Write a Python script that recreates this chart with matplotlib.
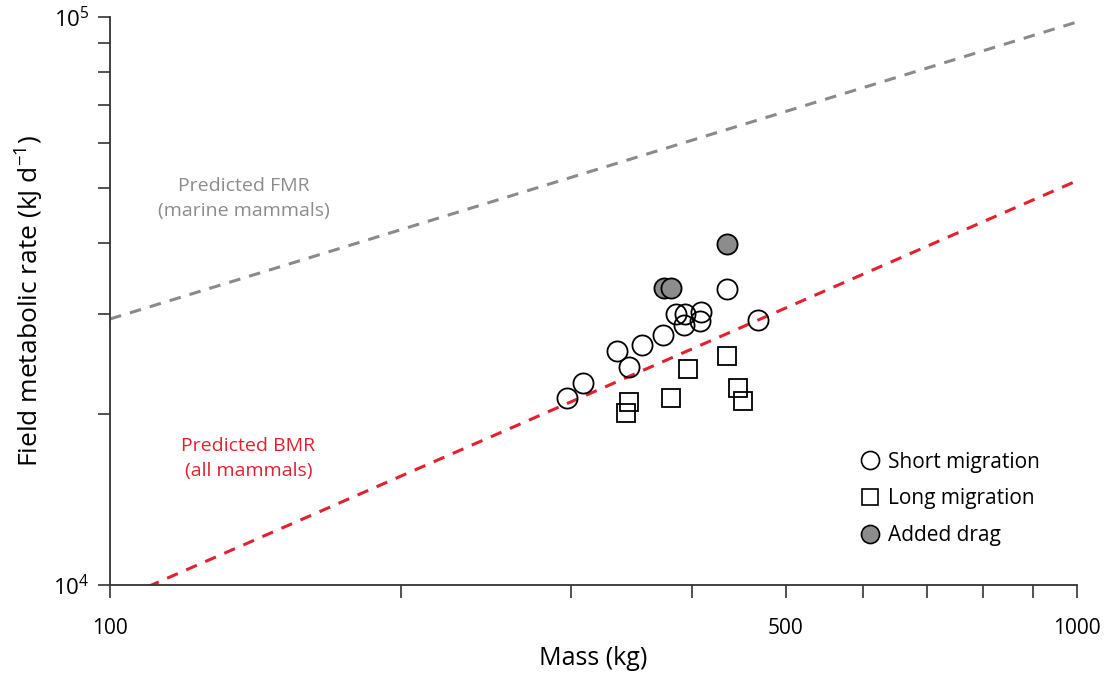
import matplotlib
matplotlib.use("Agg")
import matplotlib.pyplot as plt
from matplotlib.ticker import FixedLocator, NullFormatter, FixedFormatter
from matplotlib.lines import Line2D

plt.rcParams["font.family"] = ["Open Sans", "DejaVu Sans"]
plt.rcParams["mathtext.fontset"] = "custom"
plt.rcParams["mathtext.rm"] = "Open Sans"
plt.rcParams["mathtext.it"] = "Open Sans:italic"
plt.rcParams["mathtext.bf"] = "Open Sans:bold"

# data
short_mass = [297, 308, 334, 344, 355, 373, 385, 393, 392, 408, 407, 434, 468]
short_fmr = [21300, 22650, 25800, 24200, 26500, 27500, 30000, 29950, 28700,
             30300, 29150, 33200, 29300]
long_mass = [344, 342, 380, 396, 434, 446, 451]
long_fmr = [21000, 20050, 21300, 24050, 25300, 22200, 21100]
drag_mass = [374, 380, 434]
drag_fmr = [33300, 33300, 39800]

fmr_line_mass = [100, 1000]
fmr_line_rate = [29400, 98000]
bmr_line_mass = [100, 1000]
bmr_line_rate = [9290, 51500]

x_major = [100, 500, 1000]
x_major_labels = ["100", "500", "1000"]
x_minor = [200, 300, 400, 600, 700, 800, 900]
y_major = [1e4, 1e5]
y_major_labels = [r"$10^{4}$", r"$10^{5}$"]
y_minor = [2e4, 3e4, 4e4, 5e4, 6e4, 7e4, 8e4, 9e4]

axis_col = "#333333"
gray_line = "#8a8a8a"
red_line = "#e3202e"

fig = plt.figure(figsize=(11.07, 6.79), dpi=100)
ax = fig.add_axes([0.0994, 0.1384, 0.8736, 0.8366])

ax.set_xscale("log")
ax.set_yscale("log")
ax.set_xlim(100, 1000)
ax.set_ylim(1e4, 1e5)

# prediction lines
ax.plot(fmr_line_mass, fmr_line_rate, color=gray_line, lw=2.2,
        dashes=(3.8, 3.0), zorder=1)
ax.plot(bmr_line_mass, bmr_line_rate, color=red_line, lw=2.2,
        dashes=(3.8, 3.0), zorder=1)

# points
ax.plot(short_mass, short_fmr, "o", ms=14.5, mfc="none", mec="black",
        mew=1.3, zorder=3)
ax.plot(long_mass, long_fmr, "s", ms=13.5, mfc="none", mec="black",
        mew=1.3, zorder=3)
for m, f in zip(drag_mass, drag_fmr):
    ax.plot(m, f, "o", ms=14.5, mfc="#8c8c8c", mec="black", mew=1.3, zorder=4)

# annotations
ax.text(137.5, 48000, "Predicted FMR\n(marine mammals)", color="#8c8c8c",
        fontsize=14, ha="center", va="center", linespacing=1.5)
ax.text(139, 16700, "Predicted BMR\n(all mammals)", color="#e3202e",
        fontsize=14, ha="center", va="center", linespacing=1.5)

# axes styling
for side in ["top", "right"]:
    ax.spines[side].set_visible(False)
for side in ["left", "bottom"]:
    ax.spines[side].set_color(axis_col)
    ax.spines[side].set_linewidth(1.3)

ax.xaxis.set_major_locator(FixedLocator(x_major))
ax.xaxis.set_major_formatter(FixedFormatter(x_major_labels))
ax.xaxis.set_minor_locator(FixedLocator(x_minor))
ax.xaxis.set_minor_formatter(NullFormatter())
ax.yaxis.set_major_locator(FixedLocator(y_major))
ax.yaxis.set_major_formatter(FixedFormatter(y_major_labels))
ax.yaxis.set_minor_locator(FixedLocator(y_minor))
ax.yaxis.set_minor_formatter(NullFormatter())

ax.tick_params(axis="both", which="both", direction="out", length=9,
               width=1.2, color=axis_col)
ax.tick_params(axis="x", which="major", pad=15, labelsize=15)
ax.tick_params(axis="y", which="major", pad=6, labelsize=16)

ax.set_xlabel("Mass (kg)", fontsize=18, labelpad=5)
ax.set_ylabel(r"Field metabolic rate (kJ d$^{-1}$)", fontsize=19, labelpad=5)

handles = [
    Line2D([], [], ls="none", marker="o", ms=13, mfc="none", mec="black", mew=1.2),
    Line2D([], [], ls="none", marker="s", ms=12, mfc="none", mec="black", mew=1.2),
    Line2D([], [], ls="none", marker="o", ms=13, mfc="#8c8c8c", mec="black", mew=1.2),
]
ax.legend(handles, ["Short migration", "Long migration", "Added drag"],
          loc="center left", bbox_to_anchor=(0.764, 0.152), frameon=False,
          fontsize=15, handletextpad=0.4, labelspacing=0.75, borderpad=0,
          handlelength=1.0)

fig.savefig("out.png", dpi=100)
